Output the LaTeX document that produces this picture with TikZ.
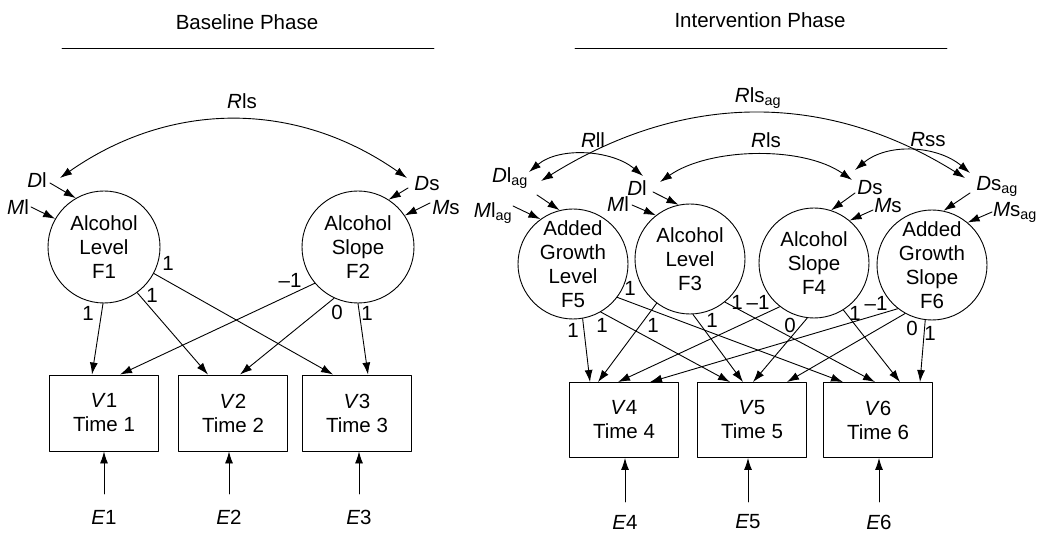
\documentclass[tikz,border=0pt]{standalone}
\usepackage{fontspec}
\setmainfont{Liberation Sans}
\usetikzlibrary{arrows.meta}

\begin{document}
\begin{tikzpicture}[x=1pt,y=1pt,line cap=round,line join=round,line width=0.9pt,
    >={Latex[length=12pt,width=8pt]},
    every node/.style={font=\fontsize{20.5}{24}\selectfont},
    latent/.style={draw,circle,minimum size=110pt,inner sep=0pt,align=center},
    observed/.style={draw,rectangle,minimum width=109pt,minimum height=76pt,inner sep=0pt,align=center},
    lbl/.style={inner sep=1pt}]
        \useasboundingbox (0,0) rectangle (1049,-534);
        % 
        \node (base) at (247,-22) {Baseline Phase};
        \node (inter) at (760,-20) {Intervention Phase};
        \draw (62,-48) -- (434,-48);
        \draw (575,-48) -- (947,-48);
        % baseline phase
        \node[latent,minimum size=112pt] (F1) at (104,-247) {Alcohol\\Level\\F1};
        \node[latent,minimum size=112pt] (F2) at (358,-247) {Alcohol\\Slope\\F2};
        \node[lbl] (Dl1) at (37,-180) {\textit{D}l};
        \node[lbl] (Ml1) at (18,-207) {\textit{M}l};
        \node[lbl] (Ds1) at (427,-184) {\textit{D}s};
        \node[lbl] (Ms1) at (446,-208) {\textit{M}s};
        \node[lbl] (Rls1) at (242,-101) {\textit{R}ls};
        \draw[<->] ([shift={(23,2)}]Dl1.center) to[out=35,in=145] ([shift={(-20,6)}]Ds1.center);
        \draw[->] ([shift={(13,-3)}]Dl1.center) -- (F1.120);
        \draw[->] ([shift={(13,0)}]Ml1.center) -- (F1.150);
        \draw[->] ([shift={(-19,-4)}]Ds1.center) -- (F2.57);
        \draw[->] ([shift={(-16,5)}]Ms1.center) -- (F2.34);
        % 
        \node[observed] (V1) at (104,-413) {\textit{V}1\\Time 1};
        \node[observed] (V2) at (233,-413) {\textit{V}2\\Time 2};
        \node[observed] (V3) at (357,-413) {\textit{V}3\\Time 3};
        \draw[->] (F1.-91) -- ([xshift=-12pt]V1.north);
        \draw[->] (F1.-54) -- ([xshift=-25pt]V2.north);
        \draw[->] (F1.-28) -- ([xshift=-24pt]V3.north);
        \draw[->] (F2.-140) -- ([xshift=16pt]V1.north);
        \draw[->] (F2.-115) -- ([xshift=7pt]V2.north);
        \draw[->] (F2.-90) -- ([xshift=11pt]V3.north);
        \node[lbl] (c11) at (88,-313) {1};
        \node[lbl] (c12) at (152,-295) {1};
        \node[lbl] (c13) at (168,-263) {1};
        \node[lbl] (c21) at (290,-280) {--1};
        \node[lbl] (c22) at (337,-312) {0};
        \node[lbl] (c23) at (367,-313) {1};
        % 
        \node[lbl] (E1) at (104,-517) {\textit{E}1};
        \node[lbl] (E2) at (229,-517) {\textit{E}2};
        \node[lbl] (E3) at (359,-517) {\textit{E}3};
        \draw[->] ([yshift=23pt]E1.center) -- (E1 |- V1.south);
        \draw[->] ([yshift=23pt]E2.center) -- (E2 |- V2.south);
        \draw[->] ([yshift=23pt]E3.center) -- (E3 |- V3.south);
        % intervention phase
        \node[latent] (F5) at (573,-264) {Added\\Growth\\Level\\F5};
        \node[latent] (F3) at (690,-259) {Alcohol\\Level\\F3};
        \node[latent] (F4) at (814,-263) {Alcohol\\Slope\\F4};
        \node[latent] (F6) at (932,-265) {Added\\Growth\\Slope\\F6};
        \node[lbl] (Dlag) at (510,-178) {\textit{D}l\textsubscript{ag}};
        \node[lbl] (Mlag) at (493,-213) {\textit{M}l\textsubscript{ag}};
        \node[lbl] (Dl2) at (637,-188) {\textit{D}l};
        \node[lbl] (Ml2) at (618,-204) {\textit{M}l};
        \node[lbl] (Ds2) at (870,-188) {\textit{D}s};
        \node[lbl] (Ms2) at (888,-206) {\textit{M}s};
        \node[lbl] (Dsag) at (997,-186) {\textit{D}s\textsubscript{ag}};
        \node[lbl] (Msag) at (1015,-212) {\textit{M}s\textsubscript{ag}};
        \node[lbl] (Rlsag) at (758,-98) {\textit{R}ls\textsubscript{ag}};
        \node[lbl] (Rll) at (593,-140) {\textit{R}ll};
        \node[lbl] (Rls2) at (766,-140) {\textit{R}ls};
        \node[lbl] (Rss) at (928,-140) {\textit{R}ss};
        \draw[<->] ([shift={(19,6)}]Dlag.center) to[out=40,in=140,looseness=0.9] ([shift={(6,12)}]Dl2.center);
        \draw[<->] ([shift={(31,-3)}]Dlag.center) to[out=32,in=148] ([shift={(-32,8)}]Dsag.center);
        \draw[<->] ([shift={(23,6)}]Dl2.center) to[out=35,in=145,looseness=0.8] ([shift={(-18,8)}]Ds2.center);
        \draw[<->] ([shift={(-15,18)}]Ds2.center) to[out=40,in=140,looseness=0.95] ([shift={(-27,13)}]Dsag.center);
        \draw[->] ([shift={(27,-17)}]Dlag.center) -- (F5.104);
        \draw[->] ([shift={(20,7)}]Mlag.center) -- (F5.126);
        \draw[->] ([shift={(16,-4)}]Dl2.center) -- (F3.102);
        \draw[->] ([shift={(14,-1)}]Ml2.center) -- (F3.128);
        \draw[->] ([shift={(-15,-5)}]Ds2.center) -- (F4.72);
        \draw[->] ([shift={(-15,-4)}]Ms2.center) -- (F4.50);
        \draw[->] ([shift={(-27,-7)}]Dsag.center) -- (F6.78);
        \draw[->] ([shift={(-23,0)}]Msag.center) -- (F6.50);
        % 
        \node[observed,minimum height=75pt] (V4) at (624,-420) {\textit{V}4\\Time 4};
        \node[observed,minimum height=75pt] (V5) at (752,-420) {\textit{V}5\\Time 5};
        \node[observed,minimum height=75pt] (V6) at (878,-420) {\textit{V}6\\Time 6};
        \draw[->] (F5.-80) -- ([xshift=-34pt]V4.north);
        \draw[->] (F5.-60) -- ([xshift=-22pt]V5.north);
        \draw[->] (F5.-37) -- ([xshift=-35pt]V6.north);
        \draw[->] (F3.-127) -- ([xshift=-26pt]V4.north);
        \draw[->] (F3.-87) -- ([xshift=-9pt]V5.north);
        \draw[->] (F3.-51) -- ([xshift=-3pt]V6.north);
        \draw[->] (F4.-128) -- ([xshift=-6pt]V4.north);
        \draw[->] (F4.-97) -- ([xshift=1pt]V5.north);
        \draw[->] (F4.-58) -- ([xshift=22pt]V6.north);
        \draw[->] (F6.-128) -- ([xshift=26pt]V4.north);
        \draw[->] (F6.-119) -- ([xshift=35pt]V5.north);
        \draw[->] (F6.-97) -- ([xshift=42pt]V6.north);
        \node[lbl] (c54) at (573,-330) {1};
        \node[lbl] (c55) at (602,-325) {1};
        \node[lbl] (c56) at (630,-288) {1};
        \node[lbl] (c34) at (653,-325) {1};
        \node[lbl] (c35) at (712,-320) {1};
        \node[lbl] (c36) at (737,-302) {1};
        \node[lbl] (c44) at (758,-302) {--1};
        \node[lbl] (c45) at (790,-325) {0};
        \node[lbl] (c46) at (855,-313) {1};
        \node[lbl] (c64) at (876,-303) {--1};
        \node[lbl] (c65) at (912,-328) {0};
        \node[lbl] (c66) at (930,-333) {1};
        % 
        \node[lbl] (E4) at (625,-522) {\textit{E}4};
        \node[lbl] (E5) at (748,-522) {\textit{E}5};
        \node[lbl] (E6) at (879,-522) {\textit{E}6};
        \draw[->] ([yshift=20pt]E4.center) -- (E4 |- V4.south);
        \draw[->] ([yshift=20pt]E5.center) -- (E5 |- V5.south);
        \draw[->] ([yshift=20pt]E6.center) -- (E6 |- V6.south);
      \end{tikzpicture}
\end{document}
